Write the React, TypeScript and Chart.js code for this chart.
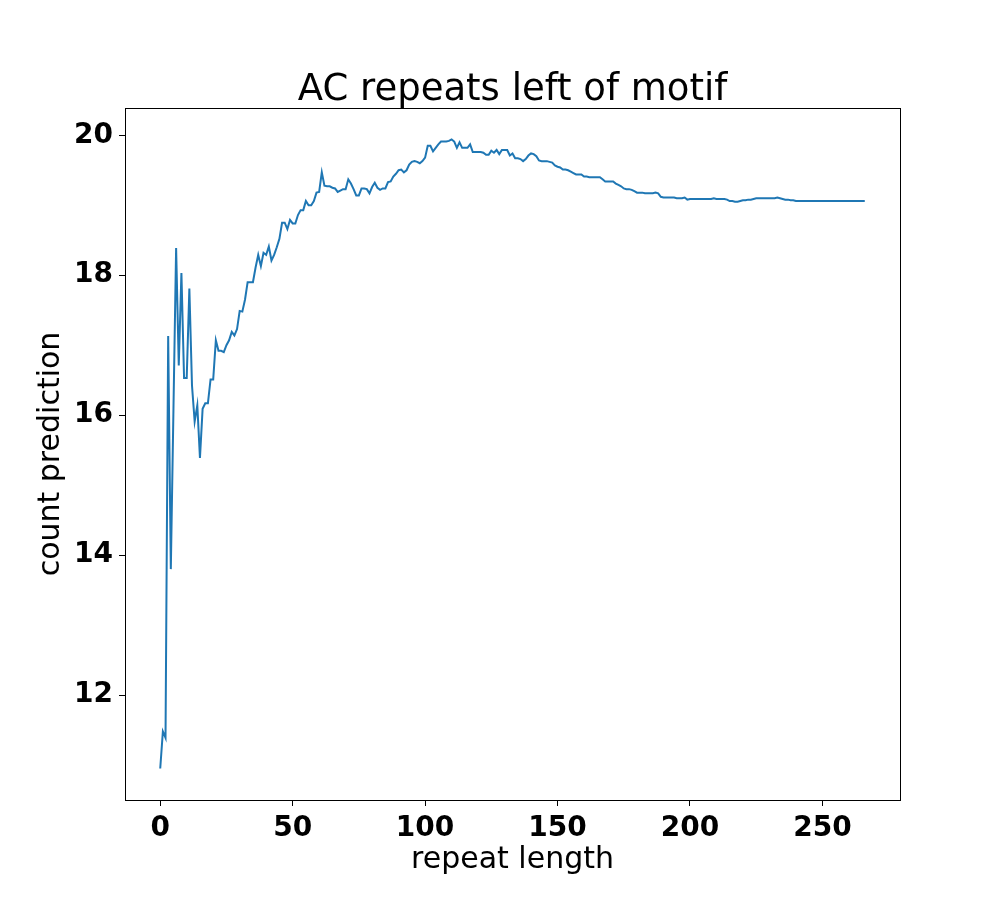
import React, { useEffect, useRef } from "react";
import { Chart, registerables } from "chart.js";

Chart.register(...registerables);

const TITLE = "AC repeats left of motif";
const X_LABEL = "repeat length";
const Y_LABEL = "count prediction";
const X_TICKS = [0, 50, 100, 150, 200, 250];
const Y_TICKS = [12, 14, 16, 18, 20];

const VALUES_0_49 = [
  10.95, 11.48, 11.39, 17.13, 13.8, 16.1, 18.39, 16.71, 18.03, 16.53,
  16.53, 17.81, 16.42, 15.91, 16.14, 15.39, 16.09, 16.17, 16.17, 16.51,
  16.51, 17.07, 16.92, 16.92, 16.9, 17.0, 17.07, 17.19, 17.14, 17.23,
  17.49, 17.48, 17.65, 17.9, 17.9, 17.9, 18.11, 18.29, 18.13, 18.32,
  18.29, 18.41, 18.21, 18.29, 18.4, 18.52, 18.75, 18.75, 18.66, 18.79,
];
const VALUES_50_99 = [
  18.74, 18.74, 18.86, 18.93, 18.93, 19.06, 19.0, 19.0, 19.06, 19.18,
  19.19, 19.47, 19.28, 19.27, 19.27, 19.25, 19.24, 19.19, 19.21, 19.23,
  19.23, 19.37, 19.31, 19.23, 19.14, 19.14, 19.24, 19.24, 19.23, 19.17,
  19.26, 19.32, 19.25, 19.22, 19.24, 19.24, 19.33, 19.34, 19.41, 19.45,
  19.5, 19.51, 19.47, 19.5, 19.58, 19.62, 19.63, 19.62, 19.6, 19.63,
];
const VALUES_100_149 = [
  19.68, 19.85, 19.85, 19.77, 19.82, 19.87, 19.91, 19.91, 19.91, 19.92,
  19.94, 19.91, 19.82, 19.9, 19.82, 19.82, 19.82, 19.87, 19.76, 19.76,
  19.76, 19.76, 19.75, 19.72, 19.72, 19.78, 19.75, 19.79, 19.73, 19.79,
  19.79, 19.79, 19.71, 19.74, 19.67, 19.67, 19.66, 19.63, 19.66, 19.71,
  19.74, 19.73, 19.7, 19.64, 19.63, 19.63, 19.63, 19.62, 19.61, 19.57,
];
const VALUES_150_199 = [
  19.55, 19.54, 19.51, 19.51, 19.5, 19.48, 19.46, 19.44, 19.44, 19.44,
  19.41, 19.41, 19.4, 19.4, 19.4, 19.4, 19.4, 19.37, 19.34, 19.34,
  19.34, 19.34, 19.31, 19.29, 19.27, 19.24, 19.23, 19.23, 19.22, 19.2,
  19.18, 19.18, 19.18, 19.17, 19.17, 19.17, 19.17, 19.18, 19.17, 19.12,
  19.11, 19.11, 19.11, 19.11, 19.11, 19.1, 19.1, 19.1, 19.11, 19.08,
];
const VALUES_200_266 = [
  19.09, 19.09, 19.09, 19.09, 19.09, 19.09, 19.09, 19.09, 19.09, 19.1,
  19.09, 19.09, 19.09, 19.09, 19.08, 19.06, 19.06, 19.05, 19.05, 19.06,
  19.07, 19.07, 19.08, 19.08, 19.09, 19.1, 19.1, 19.1, 19.1, 19.1,
  19.1, 19.1, 19.1, 19.11, 19.1, 19.09, 19.08, 19.08, 19.07, 19.07,
  19.06, 19.06, 19.06, 19.06, 19.06, 19.06, 19.06, 19.06, 19.06, 19.06,
  19.06, 19.06, 19.06, 19.06, 19.06, 19.06, 19.06, 19.06, 19.06, 19.06,
  19.06, 19.06, 19.06, 19.06, 19.06, 19.06, 19.06,
];
const VALUES = [
  ...VALUES_0_49,
  ...VALUES_50_99,
  ...VALUES_100_149,
  ...VALUES_150_199,
  ...VALUES_200_266,
];

const FONT = "'DejaVu Sans', sans-serif";

export default function App() {
  const ref = useRef<HTMLCanvasElement | null>(null);

  useEffect(() => {
    if (!ref.current) return;
    const points = VALUES.map((v, i) => ({ x: i, y: v }));
    const n = VALUES.length - 1;
    const yMinData = Math.min(...VALUES);
    const yMaxData = Math.max(...VALUES);
    const yPad = (yMaxData - yMinData) * 0.05;

    const frame = {
      id: "frameAndTitle",
      afterDraw(chart: any) {
        const { ctx, chartArea } = chart;
        ctx.save();
        ctx.strokeStyle = "#000";
        ctx.lineWidth = 1;
        ctx.strokeRect(
          Math.round(chartArea.left) + 0.5,
          Math.round(chartArea.top) + 0.5,
          Math.round(chartArea.right - chartArea.left),
          Math.round(chartArea.bottom - chartArea.top)
        );
        ctx.fillStyle = "#000";
        ctx.font = `37px ${FONT}`;
        ctx.textAlign = "center";
        ctx.textBaseline = "alphabetic";
        ctx.fillText(TITLE, (chartArea.left + chartArea.right) / 2, 100);
        ctx.restore();
      },
    };

    const chart = new Chart(ref.current, {
      type: "line",
      data: {
        datasets: [
          {
            data: points,
            borderColor: "#1f77b4",
            borderWidth: 2,
            pointRadius: 0,
            fill: false,
            tension: 0,
          },
        ],
      },
      options: {
        animation: false,
        responsive: false,
        devicePixelRatio: 1,
        layout: { padding: { top: 108, right: 100, bottom: 0, left: 0 } },
        plugins: {
          legend: { display: false },
          tooltip: { enabled: false },
          title: { display: false },
        },
        scales: {
          x: {
            type: "linear",
            min: -n * 0.05,
            max: n * 1.05,
            afterFit(scale: any) {
              scale.height = 100;
            },
            afterBuildTicks(scale: any) {
              scale.ticks = X_TICKS.map((v) => ({ value: v }));
            },
            grid: {
              display: true,
              drawOnChartArea: false,
              drawTicks: true,
              tickLength: 6,
              tickColor: "#000",
              color: "#000",
            },
            border: { display: false },
            ticks: {
              color: "#000",
              padding: 6,
              maxRotation: 0,
              font: { family: FONT, size: 28, weight: "bold" },
              callback: (v: any) => String(v),
            },
            title: {
              display: true,
              text: X_LABEL,
              color: "#000",
              font: { family: FONT, size: 30 },
              padding: { top: 0, bottom: 22 },
            },
          },
          y: {
            type: "linear",
            min: yMinData - yPad,
            max: yMaxData + yPad,
            afterFit(scale: any) {
              scale.width = 125;
            },
            afterBuildTicks(scale: any) {
              scale.ticks = Y_TICKS.map((v) => ({ value: v }));
            },
            grid: {
              display: true,
              drawOnChartArea: false,
              drawTicks: true,
              tickLength: 6,
              tickColor: "#000",
              color: "#000",
            },
            border: { display: false },
            ticks: {
              color: "#000",
              padding: 6,
              font: { family: FONT, size: 28, weight: "bold" },
              callback: (v: any) => String(v),
            },
            title: {
              display: true,
              text: Y_LABEL,
              color: "#000",
              font: { family: FONT, size: 30 },
              padding: { top: 33, bottom: 0 },
            },
          },
        },
      },
      plugins: [frame],
    });

    return () => chart.destroy();
  }, []);

  return (
    <div style={{ position: "absolute", left: 0, top: 0, width: 1000, height: 900, background: "#fff" }}>
      <canvas ref={ref} width={1000} height={900} style={{ width: 1000, height: 900 }} />
    </div>
  );
}
